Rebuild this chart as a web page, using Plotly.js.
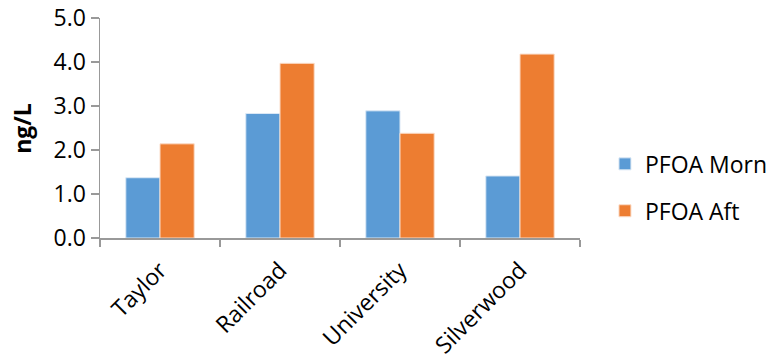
<!DOCTYPE html>
<html>
<head>
<meta charset="utf-8">
<script src="https://cdn.plot.ly/plotly-3.0.1.min.js"></script>
<style>
  html, body { margin: 0; padding: 0; background: #fff; }
  #chart { width: 770px; height: 360px; }
</style>
</head>
<body>
<div id="chart"></div>
<script>
// PFOA concentrations by sampling site (ng/L)
const sites = ["Taylor", "Railroad", "University", "Silverwood"];
const pfoaMorn = [1.37, 2.83, 2.89, 1.41];
const pfoaAft = [2.14, 3.97, 2.38, 4.18];
const yTicks = [0, 1, 2, 3, 4, 5];
const yTickText = ["0.0", "1.0", "2.0", "3.0", "4.0", "5.0"];
const yTitle = "ng/L";

const fontFamily = "'Open Sans', 'Noto Sans', sans-serif";
const tickFont = { family: fontFamily, size: 23, color: "#000" };
const labelFont = { family: fontFamily, size: 23, color: "#000" };

const traces = [
  {
    type: "bar",
    name: "PFOA Morn",
    x: sites,
    y: pfoaMorn,
    legendgroup: "morn",
    marker: { color: "#5B9BD5", line: { color: "#dbe8f5", width: 1 } },
    hoverinfo: "x+y+name"
  },
  {
    type: "bar",
    name: "PFOA Aft",
    x: sites,
    y: pfoaAft,
    legendgroup: "aft",
    marker: { color: "#ED7D31", line: { color: "#fbdcc8", width: 1 } },
    hoverinfo: "x+y+name"
  }
];

const layout = {
  width: 770,
  height: 360,
  margin: { l: 100, r: 190, t: 18, b: 122, autoexpand: false },
  paper_bgcolor: "#fff",
  plot_bgcolor: "#fff",
  barmode: "group",
  bargap: 0.43,
  bargroupgap: 0,
  font: tickFont,
  xaxis: {
    type: "category",
    tickangle: -45,
    showline: true,
    linecolor: "#999",
    linewidth: 1.5,
    ticks: "outside",
    tickson: "boundaries",
    ticklen: 7,
    tickcolor: "#999",
    tickwidth: 1.5,
    ticklabelstandoff: 8,
    showgrid: false,
    zeroline: false,
    automargin: false,
    tickfont: labelFont
  },
  yaxis: {
    range: [0, 5],
    tickvals: yTicks,
    ticktext: yTickText,
    ticksuffix: "\u2002",
    showline: true,
    linecolor: "#999",
    linewidth: 1.5,
    ticks: "outside",
    ticklen: 8,
    tickcolor: "#999",
    tickwidth: 1.5,
    showgrid: false,
    zeroline: false,
    automargin: false,
    tickfont: tickFont
  },
  // vertical axis caption, set beside the tick labels
  annotations: [
    {
      text: "<b>" + yTitle + "</b>",
      xref: "paper",
      yref: "paper",
      x: -0.163,
      y: 0.5,
      xanchor: "center",
      yanchor: "middle",
      textangle: -90,
      showarrow: false,
      font: { family: fontFamily, size: 23, color: "#000" }
    }
  ],
  showlegend: true,
  legend: {
    x: 1.052,
    xanchor: "left",
    y: 0.23,
    yanchor: "middle",
    tracegroupgap: 14,
    font: labelFont,
    bgcolor: "rgba(0,0,0,0)"
  }
};

Plotly.newPlot("chart", traces, layout, { displayModeBar: false, staticPlot: true });
</script>
</body>
</html>
